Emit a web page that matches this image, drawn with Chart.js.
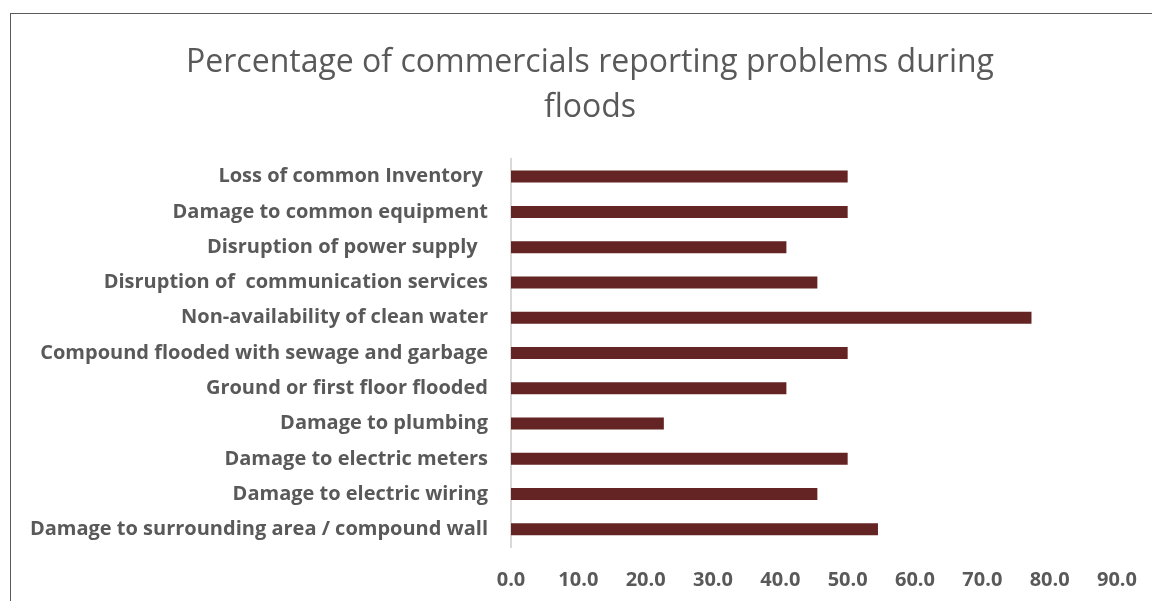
<!DOCTYPE html>
<html>
<head>
<meta charset="utf-8">
<script src="https://cdn.jsdelivr.net/npm/chart.js@4"></script>
<style>
  html, body { margin: 0; padding: 0; background: #fff; overflow: hidden; }
  #wrap { position: relative; width: 1152px; height: 601px; }
  #frame { position: absolute; left: 10px; top: 13px; width: 1200px; height: 700px; border: 1.5px solid #5a5a5a; box-sizing: border-box; pointer-events: none; }
  canvas { position: absolute; left: 0; top: 0; }
</style>
</head>
<body>
<div id="wrap">
  <canvas id="c" width="1152" height="601"></canvas>
  <div id="frame"></div>
</div>
<script>
const titleLines = ["Percentage of commercials reporting problems during", "floods"];
const categories = [
  "Loss of common Inventory ",
  "Damage to common equipment",
  "Disruption of power supply  ",
  "Disruption of  communication services",
  "Non-availability of clean water",
  "Compound flooded with sewage and garbage",
  "Ground or first floor flooded",
  "Damage to plumbing",
  "Damage to electric meters",
  "Damage to electric wiring",
  "Damage to surrounding area / compound wall"
];
const percentages = [50.0, 50.0, 40.9, 45.5, 77.3, 50.0, 40.9, 22.7, 50.0, 45.5, 54.5];
const xMin = 0, xMax = 90, xStep = 10;

const textColor = '#595959';
const fontFam = '"Open Sans", "Noto Sans", sans-serif';

new Chart(document.getElementById('c'), {
  type: 'bar',
  data: {
    labels: categories,
    datasets: [{
      data: percentages,
      backgroundColor: '#632423',
      borderWidth: 0,
      categoryPercentage: 1.0,
      barPercentage: 0.34
    }]
  },
  options: {
    indexAxis: 'y',
    responsive: false,
    animation: false,
    layout: { padding: { left: 28, right: 0, top: 0, bottom: 0 } },
    plugins: {
      legend: { display: false },
      tooltip: { enabled: false },
      title: {
        display: true,
        text: titleLines,
        color: textColor,
        font: { family: fontFam, size: 32, weight: '400', lineHeight: 1.406 },
        padding: { top: 40, bottom: 29 }
      }
    },
    scales: {
      x: {
        min: xMin, max: xMax,
        grid: { display: false },
        border: { display: false },
        afterFit: (s) => { s.height = 54; s.paddingRight = 35; s.paddingLeft = 0; },
        afterBuildTicks: (s) => {
          const t = [];
          for (let v = xMin; v <= xMax; v += xStep) t.push({ value: v });
          s.ticks = t;
        },
        ticks: {
          color: textColor,
          padding: 13,
          maxRotation: 0,
          font: { family: fontFam, size: 20, weight: 'bold' },
          callback: (v) => Number(v).toFixed(1)
        }
      },
      y: {
        grid: { display: false },
        border: { display: true, color: '#d9d9d9', width: 2 },
        afterFit: (s) => { s.width = 483; },
        ticks: {
          color: textColor,
          padding: 15,
          font: { family: fontFam, size: 20, weight: 'bold' }
        }
      }
    }
  }
});
</script>
</body>
</html>
